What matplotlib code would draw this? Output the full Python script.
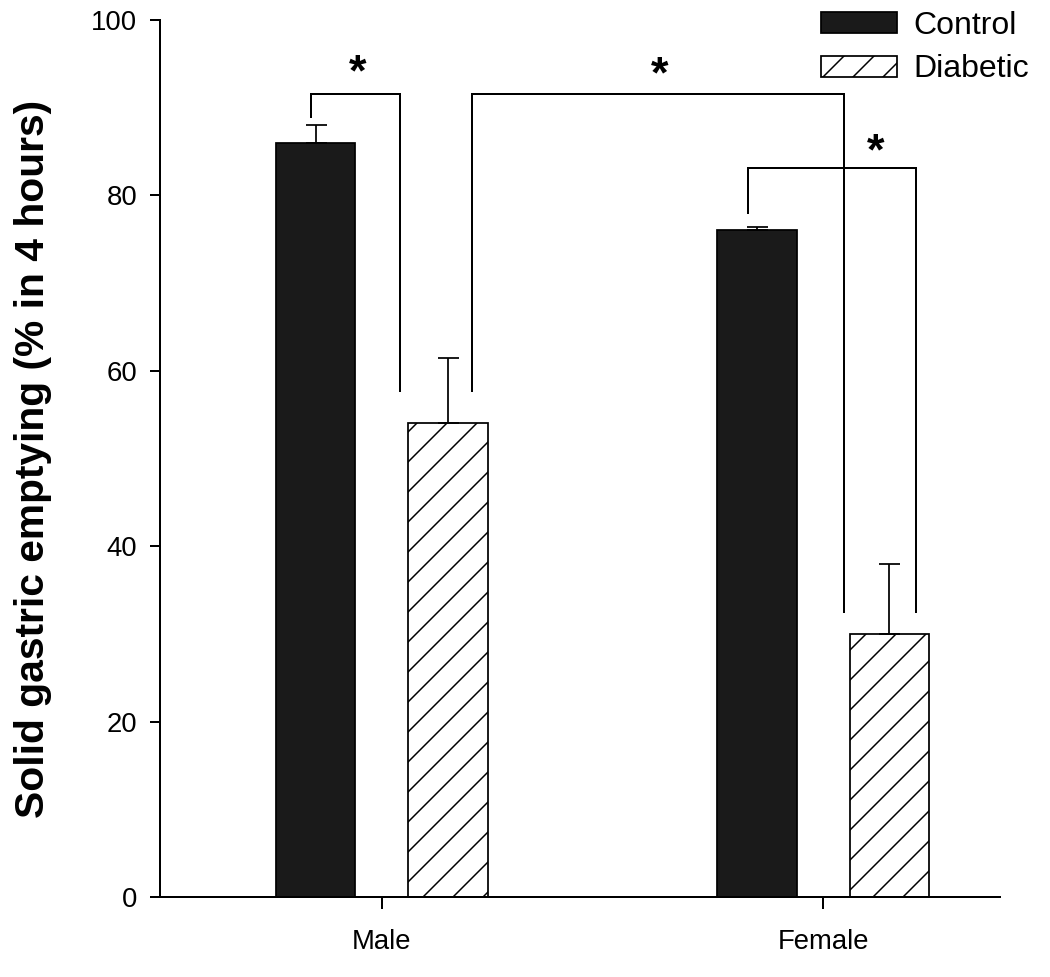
import matplotlib
matplotlib.use('Agg')
import matplotlib.pyplot as plt
import numpy as np

plt.rcParams['font.family'] = ['Liberation Sans', 'DejaVu Sans']
plt.rcParams['hatch.linewidth'] = 0.6

# dati
gruppi = ['Male', 'Female']
control = [86.0, 76.0]
control_err = [2.0, 0.4]
diabetic = [54.0, 30.0]
diabetic_err = [7.5, 8.0]

# parentesi di significativita': x sinistra, x destra, y fine gamba sx, y alto, y fine gamba dx
brackets = [(-0.16, 0.04, 88.9, 91.6, 57.7),
            (0.205, 1.047, 57.7, 91.6, 32.5),
            (0.83, 1.21, 78.0, 83.1, 32.5)]
stars_x = [-0.055, 0.63, 1.12]
stars_y = [94.9, 94.7, 85.9]

dpi = 180
fig = plt.figure(figsize=(1050 / dpi, 977 / dpi), dpi=dpi)
ax = fig.add_axes([160 / 1050, 80 / 977, 840 / 1050, 877 / 977])

x = np.arange(len(gruppi))
w = 0.18
off = 0.15
ax.bar(x - off, control, w, color='#1a1a1a', edgecolor='black', linewidth=0.7, label='Control')
ax.bar(x + off, diabetic, w, color='white', edgecolor='black', hatch='//', linewidth=0.7, label='Diabetic')
ax.errorbar(x - off, control, yerr=[np.zeros(len(x)), control_err], fmt='none', ecolor='black',
            elinewidth=0.7, capsize=4.2, capthick=0.7)
ax.errorbar(x + off, diabetic, yerr=[np.zeros(len(x)), diabetic_err], fmt='none', ecolor='black',
            elinewidth=0.7, capsize=4.2, capthick=0.7)

for x0, x1, y0, yt, y1 in brackets:
    ax.plot([x0, x0, x1, x1], [y0, yt, yt, y1], color='black', linewidth=0.8, solid_joinstyle='miter')
for sx, sy in zip(stars_x, stars_y):
    ax.text(sx, sy - 1.1, '*', fontsize=18, fontweight='bold', ha='center', va='center')

ax.set_xlim(-0.503, 1.401)
ax.set_ylim(0, 100)
ax.set_yticks([0, 20, 40, 60, 80, 100])
ax.set_xticks(x)
ax.set_xticklabels(gruppi)
ax.spines['top'].set_visible(False)
ax.spines['right'].set_visible(False)
ax.spines['left'].set_linewidth(0.8)
ax.spines['bottom'].set_linewidth(0.8)
ax.tick_params(axis='y', length=4.2, width=0.8, labelsize=11, pad=5)
ax.tick_params(axis='x', length=4.8, width=0.8, labelsize=11, pad=8)
ax.set_ylabel('Solid gastric emptying (% in 4 hours)', fontsize=16.3, fontweight='bold')
ax.yaxis.set_label_coords(-0.129, 0.5)

ax.legend(loc='upper left', bbox_to_anchor=(821 / 1050, 1 - 11 / 977), bbox_transform=fig.transFigure,
          frameon=False, fontsize=12.8, handlelength=2.375, handleheight=0.625, handletextpad=0.5,
          labelspacing=0.42, borderpad=0, borderaxespad=0)

plt.savefig('out.png', dpi=dpi)
